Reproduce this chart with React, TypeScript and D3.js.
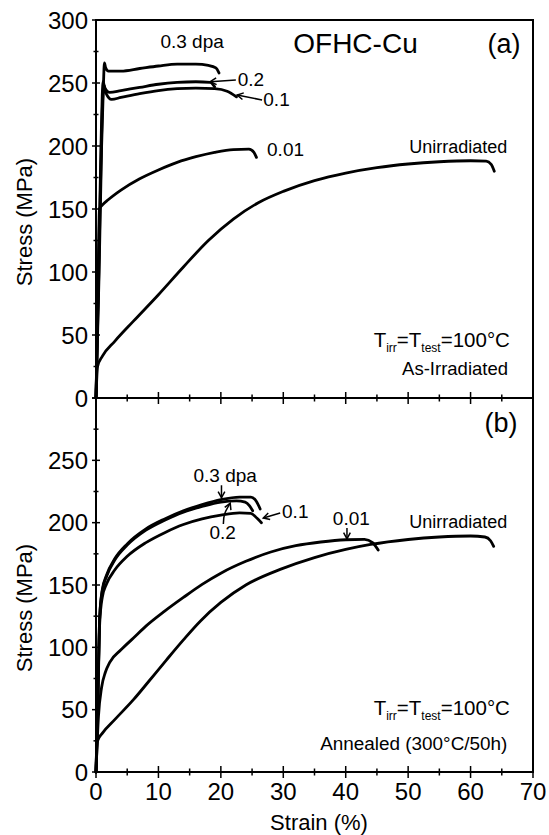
import React from 'react';
import * as d3 from 'd3';

// strain (%), stress (MPa)
const irr03: [number, number][] = [[0, 0], [0.5, 100], [0.9, 200], [1.2, 250], [1.35, 266], [1.55, 262], [2, 259.5], [4, 259.5], [7, 261.5], [10, 263.5], [13, 265], [16, 265], [18, 264], [19.2, 262], [19.7, 258]];
const irr02: [number, number][] = [[0, 0], [0.4, 100], [0.8, 200], [1.0, 240], [1.15, 251], [1.4, 246], [2.2, 242.5], [4, 244], [7, 246.5], [10, 249], [13, 250.5], [16, 251], [18.3, 250.5], [19, 247]];
const irr01: [number, number][] = [[0, 0], [0.45, 100], [0.85, 200], [1.1, 240], [1.3, 248], [1.6, 242], [2.5, 237], [4, 238.5], [7, 241.5], [10, 244], [13, 245.5], [16, 246], [19, 245.5], [21, 243.5], [22.5, 239]];
const irr001: [number, number][] = [[0, 0], [0.3, 80], [0.55, 150], [1, 153], [2, 157.5], [4, 165], [7, 174], [10, 181], [13, 187], [16, 191.5], [19, 195], [22, 197.2], [24.5, 197.5], [25.3, 195], [25.7, 191]];
const irrUnirr: [number, number][] = [[0, 0], [0.25, 25], [1, 33], [3, 45], [6, 61], [10, 82], [14, 104], [18, 125], [22, 142], [26, 155], [30, 164], [35, 172.5], [40, 178.5], [45, 182.8], [50, 185.7], [55, 187.5], [60, 188.3], [62.5, 188], [63.3, 185.5], [63.8, 180]];

const ann03: [number, number][] = [[0, 0], [0.3, 60], [0.6, 125], [1, 146], [1.7, 158], [3, 171], [5, 183], [8, 195], [11, 203], [14, 209.5], [17, 214.5], [20, 218.5], [23, 220.5], [24.8, 220.5], [25.7, 217], [26.3, 211]];
const ann02: [number, number][] = [[0, 0], [0.3, 60], [0.6, 125], [1, 145], [1.7, 157], [3, 170], [5, 182], [8, 194], [11, 202], [14, 208.5], [17, 213], [20, 216.5], [22.5, 217.5], [23.9, 216.5], [24.6, 213.5], [25.1, 209.5]];
const ann01: [number, number][] = [[0, 0], [0.3, 55], [0.6, 120], [1, 140], [1.7, 151], [3, 162], [5, 173], [8, 184], [11, 192], [14, 198.5], [17, 203], [20, 206], [23, 207.8], [24.8, 207.5], [25.8, 203.5], [26.5, 200]];
const ann001: [number, number][] = [[0, 0], [0.4, 45], [0.9, 68], [1.5, 80], [2.2, 88], [4, 98], [6, 107.5], [8, 117], [11, 129], [14, 140], [17, 150.5], [20, 159.5], [24, 169], [28, 176.5], [32, 181.5], [36, 184.5], [40, 186.3], [43, 186.6], [44.3, 184], [45.2, 178]];
const annUnirr: [number, number][] = [[0, 0], [0.25, 25], [1, 31], [3, 42], [6, 58], [8.5, 73], [11.3, 90], [14, 106], [16.7, 121], [20, 136], [24, 150], [29.5, 162.5], [35, 172], [40, 178.5], [44, 182.5], [50, 186.5], [55, 188.5], [60, 189.3], [62.3, 188.5], [63.2, 185.5], [63.7, 181]];

const xTickLabels = [0, 10, 20, 30, 40, 50, 60, 70];
const yTickLabelsTop = [0, 50, 100, 150, 200, 250, 300];
const yTickLabelsBottom = [0, 50, 100, 150, 200, 250];

const FONT = '"Liberation Sans", Arial, sans-serif';

const W = 549;
const H = 835;

const x = d3.scaleLinear().domain([0, 70]).range([96, 533]);
const yTop = d3.scaleLinear().domain([0, 300]).range([398, 20]);
const yBot = d3.scaleLinear().domain([0, 300]).range([772, 398]);

const arrowHead = (x1: number, y1: number, x2: number, y2: number, len = 7) => {
  const a = Math.atan2(y2 - y1, x2 - x1);
  const p1 = [x2 - len * Math.cos(a - 0.5), y2 - len * Math.sin(a - 0.5)];
  const p2 = [x2 - len * Math.cos(a + 0.5), y2 - len * Math.sin(a + 0.5)];
  return `M${p1[0]},${p1[1]}L${x2},${y2}L${p2[0]},${p2[1]}`;
};

const Arrow = ({ from, to }: { from: [number, number]; to: [number, number] }) => (
  <g fill="none" stroke="#000" strokeWidth={1.5}>
    <line x1={from[0]} y1={from[1]} x2={to[0]} y2={to[1]} />
    <path d={arrowHead(from[0], from[1], to[0], to[1])} />
  </g>
);

const Panel = ({ y, curves, labels, showTop }: { y: d3.ScaleLinear<number, number>; curves: [number, number][][]; labels: number[]; showTop: boolean }) => {
  const line = d3.line<[number, number]>()
    .x(d => x(d[0]))
    .y(d => y(d[1]))
    .curve(d3.curveMonotoneX);
  return (
    <g>
      {curves.map((c, i) => (
        <path key={i} d={line(c) || ''} fill="none" stroke="#000" strokeWidth={2.8} strokeLinejoin="round" strokeLinecap="round" />
      ))}
      {d3.range(0, 301, 25).map(v => (
        <line key={'yt' + v} x1={x(0) - (v % 50 === 0 ? 4 : 2.5)} x2={x(0) + (v % 50 === 0 ? 4 : 2.5)} y1={y(v)} y2={y(v)} stroke="#000" strokeWidth={1.5} />
      ))}
      {d3.range(0, 71, 5).map(v => (
        <line key={'xt' + v} x1={x(v)} x2={x(v)} y1={y(0) - (v % 10 === 0 ? 6 : 3.5)} y2={y(0) + (v % 10 === 0 ? 6 : 3.5)} stroke="#000" strokeWidth={1.5} />
      ))}
      {labels.map(v => (
        <text key={'yl' + v} x={x(0) - 8} y={y(v)} dy="0.36em" textAnchor="end" fontSize={24} fontFamily={FONT}>{v}</text>
      ))}
      <text transform={`translate(32,${(y(0) + y(300)) / 2 + (showTop ? 13 : 23)}) rotate(-90)`} textAnchor="middle" fontSize={22} fontFamily={FONT}>Stress (MPa)</text>
    </g>
  );
};

const App = () => {
  const t = 20.5;
  const sub = 12;
  const tempLabel = (yy: number) => (
    <text x={x(66.3)} y={yy} textAnchor="end" fontSize={t} fontFamily={FONT}>
      <tspan>T</tspan>
      <tspan fontSize={sub} dy={5}>irr</tspan>
      <tspan dy={-5}>=T</tspan>
      <tspan fontSize={sub} dy={5}>test</tspan>
      <tspan dy={-5}>=100°C</tspan>
    </text>
  );
  const curve02 = d3.line().curve(d3.curveNatural)([
    [x(20.4), yBot(198.9)],
    [x(20.6), yBot(207)],
    [x(21.5), yBot(215.7)],
  ]) || '';

  return (
    <svg width={W} height={H} style={{ position: 'absolute', left: 0, top: 0, background: '#fff' }}>
      <rect x={0} y={0} width={W} height={H} fill="#fff" />
      <Panel y={yTop} curves={[irr03, irr02, irr01, irr001, irrUnirr]} labels={yTickLabelsTop} showTop />
      <Panel y={yBot} curves={[ann03, ann02, ann01, ann001, annUnirr]} labels={yTickLabelsBottom} showTop={false} />

      {/* frame */}
      <rect x={x(0)} y={yTop(300)} width={x(70) - x(0)} height={yBot(0) - yTop(300)} fill="none" stroke="#000" strokeWidth={2} />
      <line x1={x(0)} x2={x(70)} y1={yTop(0)} y2={yTop(0)} stroke="#000" strokeWidth={2} />

      {xTickLabels.map(v => (
        <text key={'xl' + v} x={x(v)} y={800} textAnchor="middle" fontSize={24} fontFamily={FONT}>{v}</text>
      ))}
      <text x={319} y={830} textAnchor="middle" fontSize={22} fontFamily={FONT}>Strain (%)</text>

      {/* panel (a) annotations */}
      <g fontFamily={FONT}>
        <text x={x(31.6)} y={yTop(274)} fontSize={28}>OFHC-Cu</text>
        <text x={x(68)} y={yTop(274)} textAnchor="end" fontSize={27}>(a)</text>
        <text x={x(15.4)} y={yTop(278)} textAnchor="middle" fontSize={19}>0.3 dpa</text>
        <Arrow from={[x(22.4), yTop(252.4)]} to={[x(18.3), yTop(251)]} />
        <text x={x(22.7)} y={yTop(247.6)} fontSize={19}>0.2</text>
        <Arrow from={[x(26.6), yTop(236.5)]} to={[x(22.6), yTop(240.5)]} />
        <text x={x(26.8)} y={yTop(231.7)} fontSize={19}>0.1</text>
        <text x={x(27.4)} y={yTop(192)} fontSize={19}>0.01</text>
        <text x={x(65.9)} y={yTop(194.7)} textAnchor="end" fontSize={18}>Unirradiated</text>
        {tempLabel(yTop(40.5))}
        <text x={x(66)} y={yTop(18.3)} textAnchor="end" fontSize={18.5}>As-Irradiated</text>
      </g>

      {/* panel (b) annotations */}
      <g fontFamily={FONT}>
        <text x={x(67.5)} y={yBot(272.7)} textAnchor="end" fontSize={27}>(b)</text>
        <text x={x(20.7)} y={yBot(232.6)} textAnchor="middle" fontSize={19}>0.3 dpa</text>
        <Arrow from={[x(20.1), yBot(230)]} to={[x(20.1), yBot(220)]} />
        <text x={x(20.3)} y={yBot(186.8)} textAnchor="middle" fontSize={19}>0.2</text>
        <path d={curve02} fill="none" stroke="#000" strokeWidth={1.5} />
        <path d={arrowHead(x(21.1), yBot(211), x(21.5), yBot(215.7))} fill="none" stroke="#000" strokeWidth={1.5} />
        <Arrow from={[x(29.5), yBot(207.7)]} to={[x(26.8), yBot(203.7)]} />
        <text x={x(29.8)} y={yBot(203.7)} fontSize={19}>0.1</text>
        <text x={x(40.9)} y={yBot(198)} textAnchor="middle" fontSize={19}>0.01</text>
        <Arrow from={[x(40.2), yBot(195.7)]} to={[x(40.2), yBot(187)]} />
        <text x={x(65.9)} y={yBot(195.7)} textAnchor="end" fontSize={18}>Unirradiated</text>
        {tempLabel(yBot(45.7))}
        <text x={x(65.9)} y={yBot(17.6)} textAnchor="end" fontSize={18.9}>Annealed (300°C/50h)</text>
      </g>
    </svg>
  );
};

export default App;
